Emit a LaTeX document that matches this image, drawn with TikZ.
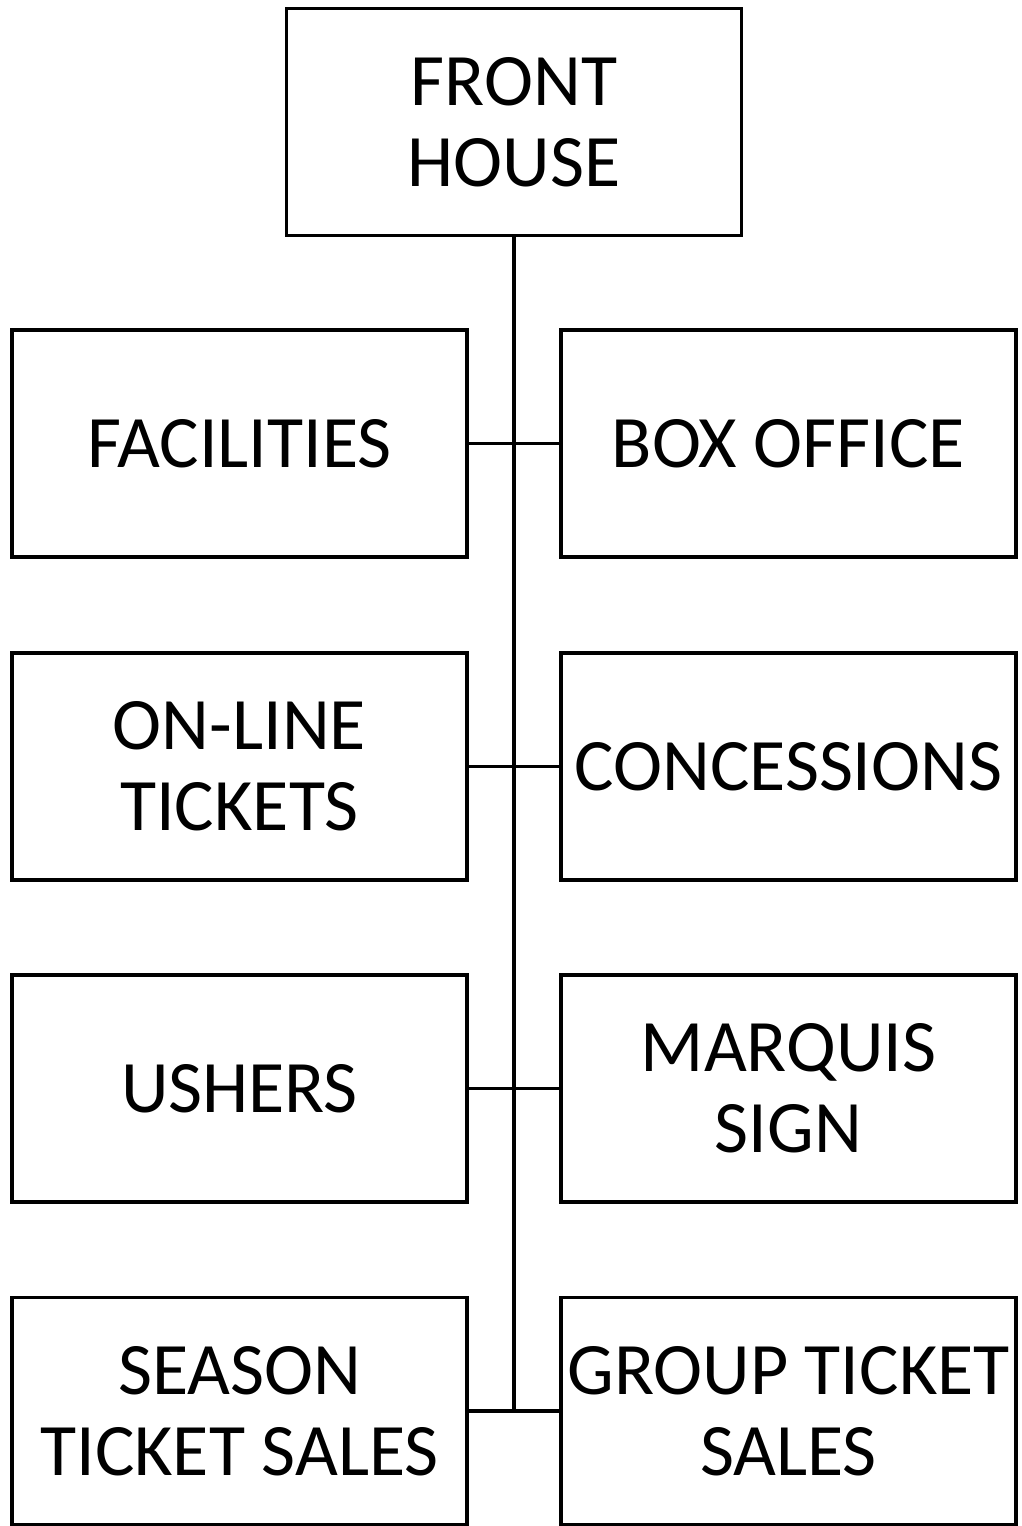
\documentclass[tikz,border=0pt]{standalone}
\usepackage{fontspec}
\setmainfont{Carlito}
\begin{document}
\begin{tikzpicture}[x=1pt,y=-1pt,
  box/.style={draw=black,line width=3.5pt,minimum width=455pt,minimum height=227pt,inner sep=0pt,align=center,
    font=\fontsize{74}{81}\selectfont},
  conn/.style={line width=3.5pt}]
\useasboundingbox (0,0) rectangle (1021,1526);
\node[box] (top) at (514,122) {FRONT\\HOUSE};
\node[box] (l1) at (239.5,443.5) {FACILITIES};
\node[box] (r1) at (788.5,443.5) {BOX OFFICE};
\node[box] (l2) at (239.5,766.5) {ON-LINE\\TICKETS};
\node[box] (r2) at (788.5,766.5) {CONCESSIONS};
\node[box] (l3) at (239.5,1088.5) {USHERS};
\node[box] (r3) at (788.5,1088.5) {MARQUIS\\SIGN};
\node[box] (l4) at (239.5,1411) {SEASON\\TICKET SALES};
\node[box] (r4) at (788.5,1411) {GROUP TICKET\\SALES};
\coordinate (bot) at (514,1411);
\draw[conn] (top.south) -- (bot);
\draw[conn] (l1.east) -- (r1.west);
\draw[conn] (l2.east) -- (r2.west);
\draw[conn] (l3.east) -- (r3.west);
\draw[conn] (l4.east) -- (r4.west);
\end{tikzpicture}
\end{document}
